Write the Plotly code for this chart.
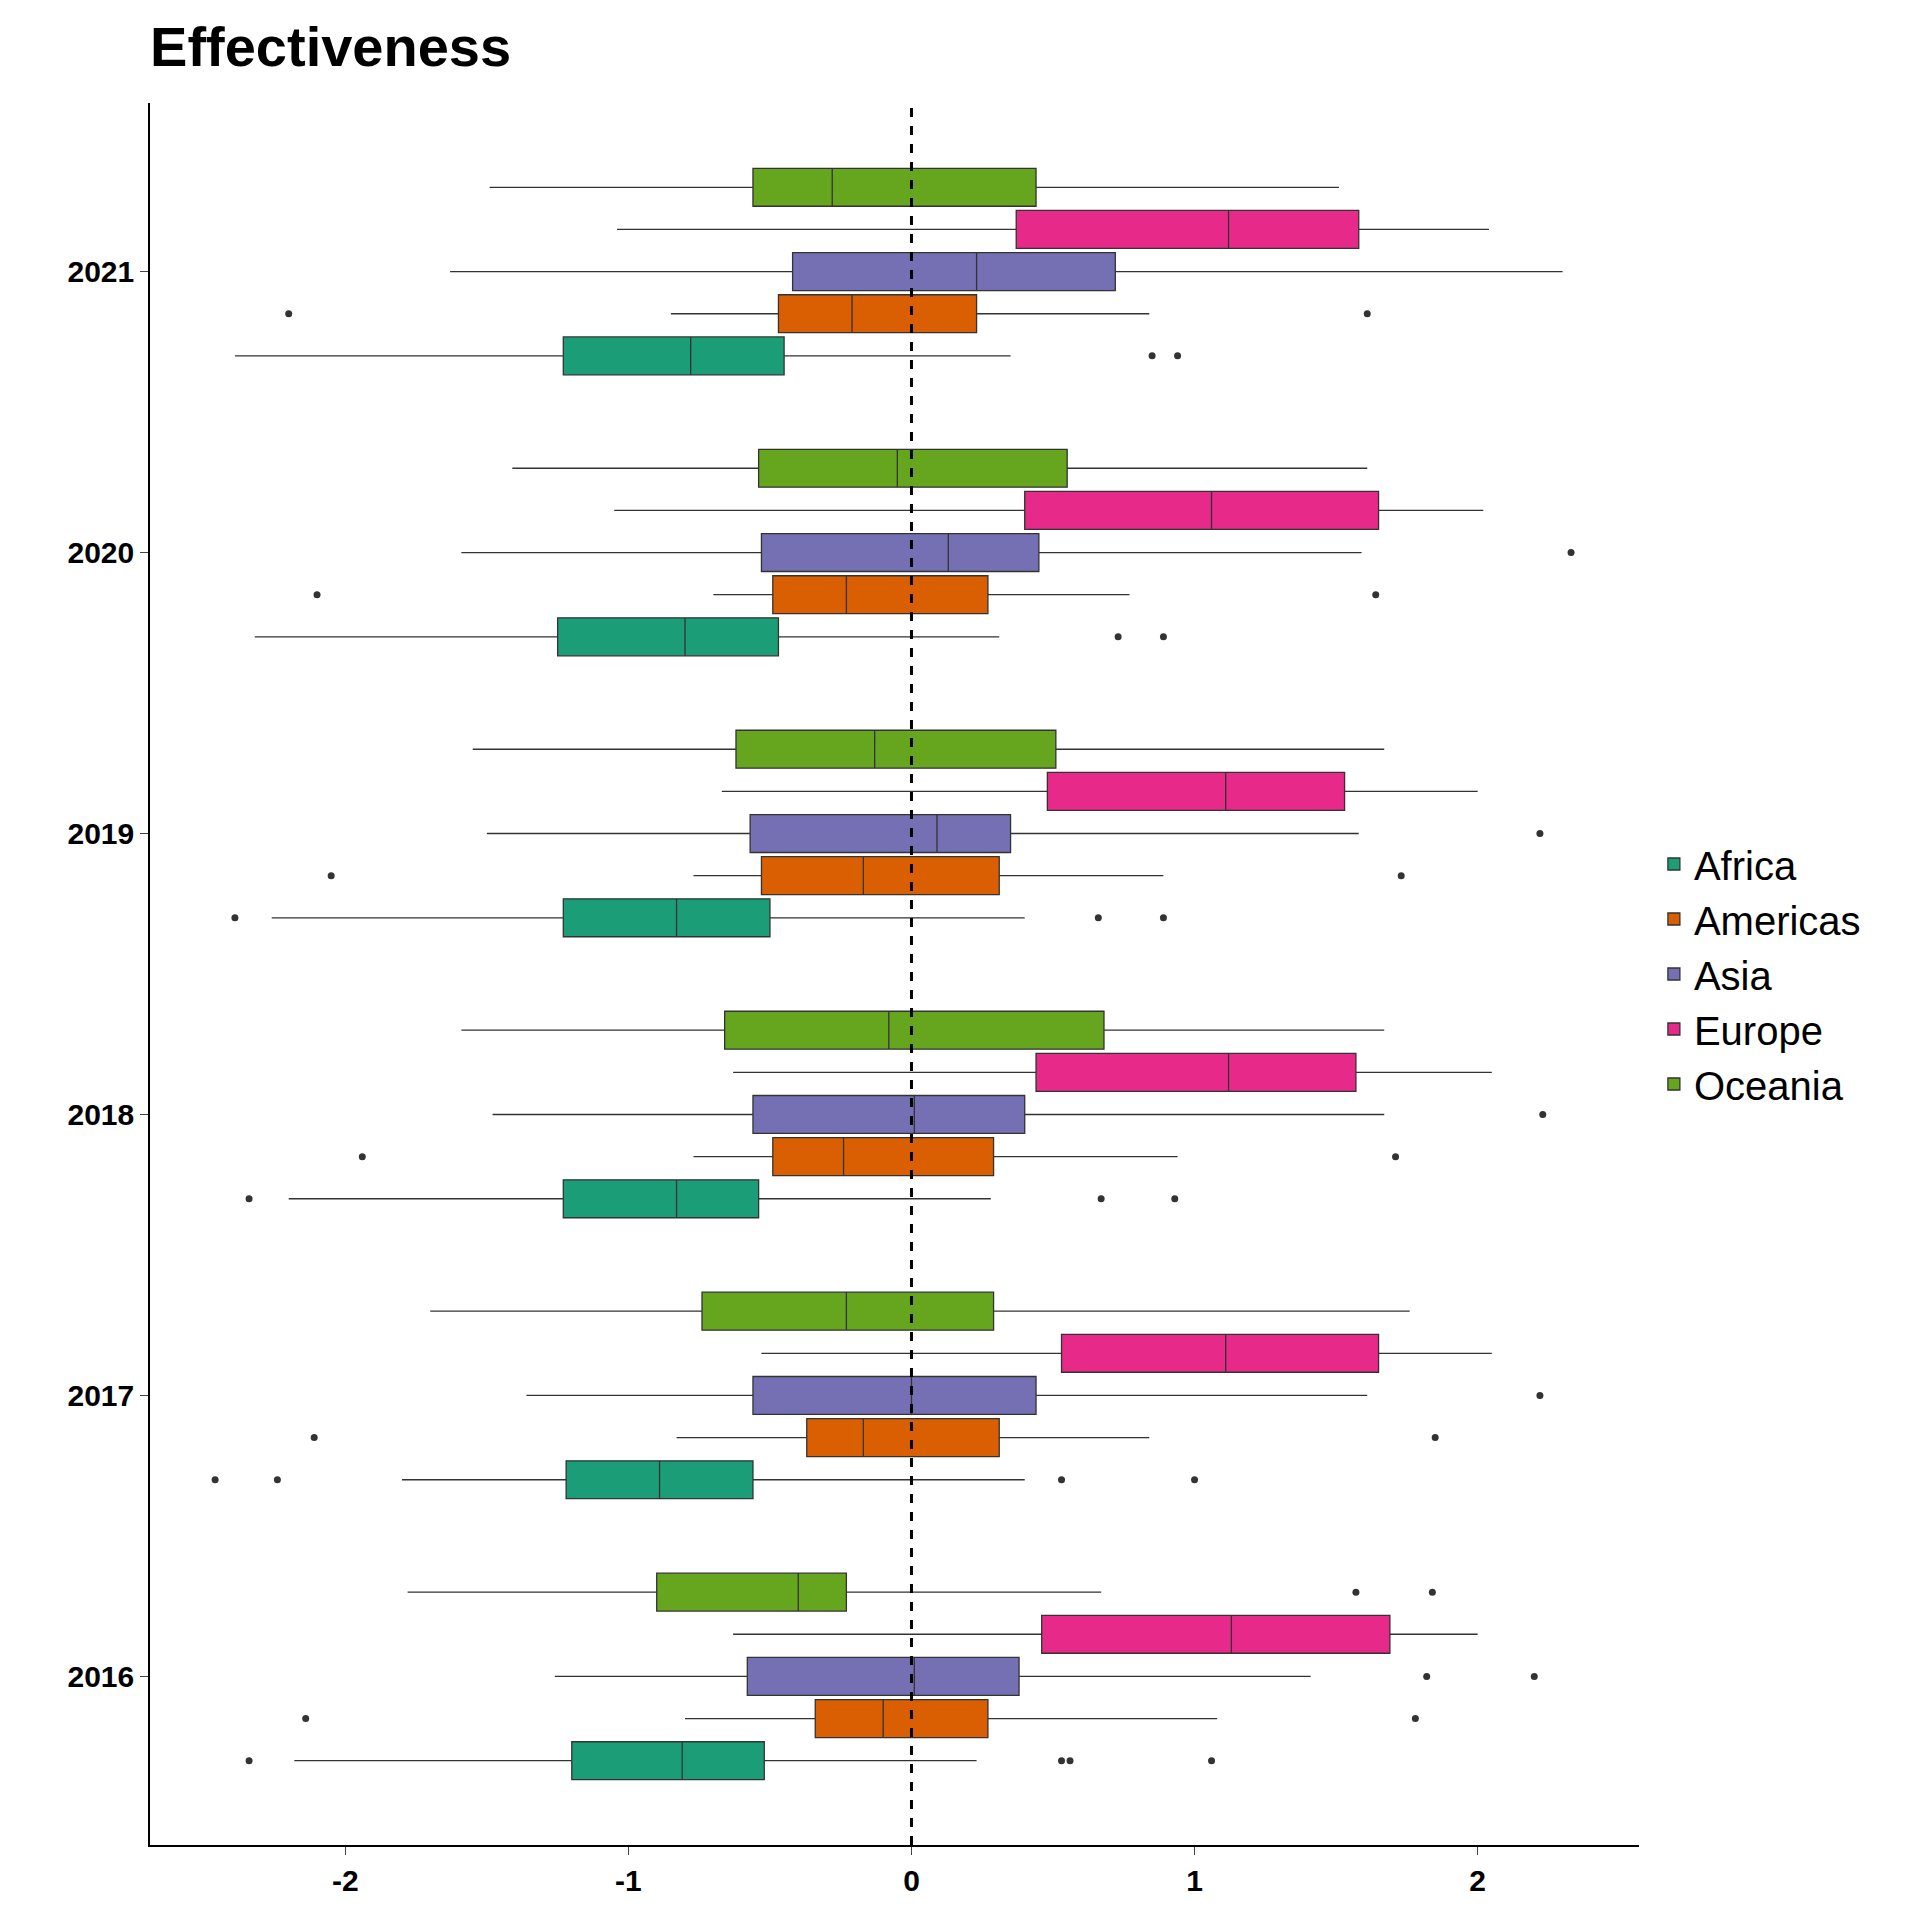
import plotly.graph_objects as go

years = [2016, 2017, 2018, 2019, 2020, 2021]
regions = ["Africa", "Americas", "Asia", "Europe", "Oceania"]
colors = ["#1B9E77", "#D95F02", "#7570B3", "#E7298A", "#66A61E"]
x_ticks = [-2, -1, 0, 1, 2]

# per region: lists over years 2016..2021 of (lowerfence, q1, median, q3, upperfence)
africa = [(-2.18, -1.20, -0.81, -0.52, 0.23), (-1.80, -1.22, -0.89, -0.56, 0.40),
          (-2.20, -1.23, -0.83, -0.54, 0.28), (-2.26, -1.23, -0.83, -0.50, 0.40),
          (-2.32, -1.25, -0.80, -0.47, 0.31), (-2.39, -1.23, -0.78, -0.45, 0.35)]
americas = [(-0.80, -0.34, -0.10, 0.27, 1.08), (-0.83, -0.37, -0.17, 0.31, 0.84),
            (-0.77, -0.49, -0.24, 0.29, 0.94), (-0.77, -0.53, -0.17, 0.31, 0.89),
            (-0.70, -0.49, -0.23, 0.27, 0.77), (-0.85, -0.47, -0.21, 0.23, 0.84)]
asia = [(-1.26, -0.58, 0.01, 0.38, 1.41), (-1.36, -0.56, 0.00, 0.44, 1.61),
        (-1.48, -0.56, 0.01, 0.40, 1.67), (-1.50, -0.57, 0.09, 0.35, 1.58),
        (-1.59, -0.53, 0.13, 0.45, 1.59), (-1.63, -0.42, 0.23, 0.72, 2.30)]
europe = [(-0.63, 0.46, 1.13, 1.69, 2.00), (-0.53, 0.53, 1.11, 1.65, 2.05),
          (-0.63, 0.44, 1.12, 1.57, 2.05), (-0.67, 0.48, 1.11, 1.53, 2.00),
          (-1.05, 0.40, 1.06, 1.65, 2.02), (-1.04, 0.37, 1.12, 1.58, 2.04)]
oceania = [(-1.78, -0.90, -0.40, -0.23, 0.67), (-1.70, -0.74, -0.23, 0.29, 1.76),
           (-1.59, -0.66, -0.08, 0.68, 1.67), (-1.55, -0.62, -0.13, 0.51, 1.67),
           (-1.41, -0.54, -0.05, 0.55, 1.61), (-1.49, -0.56, -0.28, 0.44, 1.51)]

# outliers per region per year
africa_out = [[-2.34, 0.53, 0.56, 1.06], [-2.46, -2.24, 0.53, 1.00], [-2.34, 0.67, 0.93],
              [-2.39, 0.66, 0.89], [0.73, 0.89], [0.85, 0.94]]
americas_out = [[-2.14, 1.78], [-2.11, 1.85], [-1.94, 1.71], [-2.05, 1.73], [-2.10, 1.64], [-2.20, 1.61]]
asia_out = [[1.82, 2.20], [2.22], [2.23], [2.22], [2.33], []]
europe_out = [[], [], [], [], [], []]
oceania_out = [[1.57, 1.84], [], [], [], [], []]

stats = [africa, americas, asia, europe, oceania]
outs = [africa_out, americas_out, asia_out, europe_out, oceania_out]

fig = go.Figure()
for i, (name, col, st, ou) in enumerate(zip(regions, colors, stats, outs)):
    off = (i - 2) * 0.15
    ypos = [y + off for y in years]
    fig.add_trace(go.Box(
        name=name, orientation="h", y=ypos,
        lowerfence=[s[0] for s in st], q1=[s[1] for s in st], median=[s[2] for s in st],
        q3=[s[3] for s in st], upperfence=[s[4] for s in st],
        width=0.135, fillcolor=col, line=dict(color="#333333", width=1.3),
        whiskerwidth=0, boxpoints=False, legendgroup=name,
    ))
    ox, oy = [], []
    for y, vals in zip(years, ou):
        for v in vals:
            ox.append(v)
            oy.append(y + off)
    fig.add_trace(go.Scatter(x=ox, y=oy, mode="markers", showlegend=False,
                             marker=dict(color="#333333", size=7), hoverinfo="skip"))

fig.add_vline(x=0, line_dash="dash", line_color="black", line_width=3)

fig.update_layout(
    width=1920, height=1920, plot_bgcolor="white", paper_bgcolor="white",
    margin=dict(l=142, r=289, t=95, b=83),
    title=dict(text="<b>Effectiveness</b>", x=0.074, xanchor="left", y=0.99, yanchor="top",
               font=dict(size=56, color="black", family="Liberation Sans")),
    font=dict(family="Liberation Sans", color="black"),
    legend=dict(x=1.01, y=0.5, yanchor="middle", font=dict(size=40), traceorder="normal",
                tracegroupgap=0),
)
fig.update_xaxes(range=[-2.69, 2.57], tickvals=x_ticks, ticktext=[f"<b>{t}</b>" for t in x_ticks],
                 showgrid=False, zeroline=False,
                 showline=True, linecolor="black", linewidth=1.5, ticks="outside", ticklen=8,
                 tickfont=dict(size=30, family="Liberation Sans"))
fig.update_yaxes(range=[2015.4, 2021.6], tickvals=years, ticktext=[f"<b>{y}</b>" for y in years],
                 showgrid=False, zeroline=False,
                 showline=True, linecolor="black", linewidth=1.5, ticks="outside", ticklen=8,
                 tickfont=dict(size=30, family="Liberation Sans"))

fig.write_html("out.html")
